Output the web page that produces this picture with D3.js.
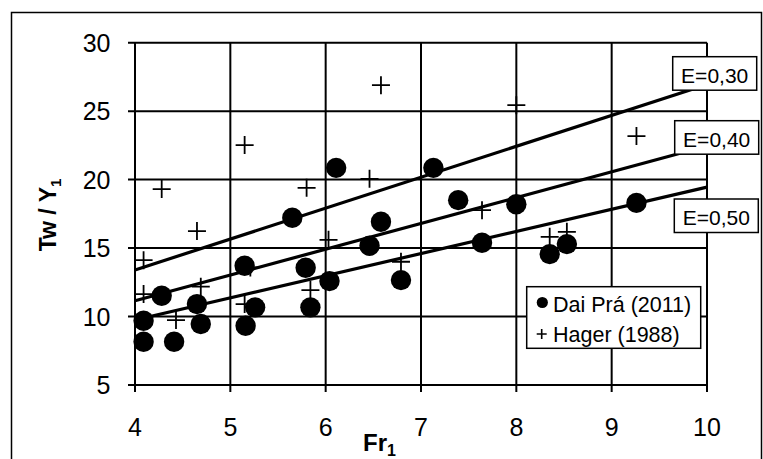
<!DOCTYPE html>
<html>
<head>
<meta charset="utf-8">
<script src="https://cdn.jsdelivr.net/npm/d3@7"></script>
<style>
  html, body { margin: 0; padding: 0; background: #fff; }
  svg { display: block; font-family: "Liberation Sans", Arial, sans-serif; }
</style>
</head>
<body>
<script>
// ---- data ----
const xTicks = [4, 5, 6, 7, 8, 9, 10];
const yTicks = [5, 10, 15, 20, 25, 30];

const daiFr = [4.09, 4.09, 4.28, 4.41, 4.65, 4.69, 5.15, 5.26, 5.16, 5.65, 5.79, 5.84,
               6.11, 6.04, 6.46, 6.58, 6.79, 7.13, 7.39, 7.64, 8.00, 8.35, 8.53, 9.26];
const daiTw = [9.69, 8.16, 11.52, 8.16, 10.91, 9.45, 13.71, 10.67, 9.33, 17.21, 13.56, 10.67,
               20.86, 12.59, 15.17, 16.92, 12.66, 20.86, 18.50, 15.39, 18.20, 14.56, 15.29, 18.30];

const hagerFr = [4.09, 4.09, 4.28, 4.43, 4.65, 4.69, 5.15, 5.15, 5.21, 5.80, 5.84, 6.03,
                 6.46, 6.58, 6.79, 7.64, 8.00, 8.35, 8.53, 9.26];
const hagerTw = [14.12, 11.64, 19.31, 9.74, 16.24, 12.18, 22.52, 10.91, 13.59, 19.40, 11.93, 15.60,
                 20.06, 26.90, 14.00, 17.77, 25.44, 15.82, 16.19, 23.18];

const eLabels = ["E=0,30", "E=0,40", "E=0,50"];
const eFr = [4, 10];
const eStart = [13.40, 11.15, 9.75];
const eEnd = [26.95, 22.45, 19.45];

const legendLabels = ["Dai Prá (2011)", "Hager (1988)"];

// ---- layout ----
const W = 763, H = 459;
const svg = d3.select("body").append("svg").attr("width", W).attr("height", H);

const x = d3.scaleLinear().domain([4, 10]).range([135, 707]);
const y = d3.scaleLinear().domain([5, 30]).range([385, 42.7]);

// outer frame
svg.append("rect").attr("x", 11.5).attr("y", 12.5).attr("width", 750).attr("height", 470)
  .attr("fill", "none").attr("stroke", "#000").attr("stroke-width", 1.5);

// grid
const g = svg.append("g");
g.selectAll(".vg").data(xTicks).join("line")
  .attr("x1", d => x(d)).attr("x2", d => x(d))
  .attr("y1", y(30)).attr("y2", y(5) + 7)
  .attr("stroke", "#000").attr("stroke-width", 2);
g.selectAll(".hg").data(yTicks).join("line")
  .attr("x1", x(4) - 7).attr("x2", x(10))
  .attr("y1", d => y(d)).attr("y2", d => y(d))
  .attr("stroke", "#000").attr("stroke-width", 2);

// tick labels
g.selectAll(".yl").data(yTicks).join("text")
  .attr("x", 110.5).attr("y", d => y(d) + 9)
  .attr("text-anchor", "end").attr("font-size", 25).text(d => d);
g.selectAll(".xl").data(xTicks).join("text")
  .attr("x", d => x(d)).attr("y", 435.5)
  .attr("text-anchor", "middle").attr("font-size", 25).text(d => d);

// axis titles
const yt = svg.append("text")
  .attr("transform", "translate(56,215) rotate(-90)")
  .attr("text-anchor", "middle").attr("font-size", 23).attr("font-weight", "bold");
yt.append("tspan").text("Tw / Y");
yt.append("tspan").attr("font-size", 15).attr("dy", 5).text("1");

const xt = svg.append("text")
  .attr("x", 363).attr("y", 451)
  .attr("font-size", 24).attr("font-weight", "bold");
xt.append("tspan").text("Fr");
xt.append("tspan").attr("font-size", 16).attr("dy", 5).text("1");

// E lines
const line = d3.line().x(d => x(d[0])).y(d => y(d[1]));
eLabels.forEach((lab, i) => {
  svg.append("path")
    .attr("d", line([[eFr[0], eStart[i]], [eFr[1], eEnd[i]]]))
    .attr("fill", "none").attr("stroke", "#000").attr("stroke-width", 3.2);
});

// Hager crosses
const hager = hagerFr.map((f, i) => [f, hagerTw[i]]);
const cs = 9;
svg.append("g").selectAll("path").data(hager).join("path")
  .attr("d", d => `M${x(d[0]) - cs},${y(d[1])}H${x(d[0]) + cs}M${x(d[0])},${y(d[1]) - cs}V${y(d[1]) + cs}`)
  .attr("stroke", "#000").attr("stroke-width", 1.8).attr("fill", "none");

// Dai Prá circles
const dai = daiFr.map((f, i) => [f, daiTw[i]]);
svg.append("g").selectAll("circle").data(dai).join("circle")
  .attr("cx", d => x(d[0])).attr("cy", d => y(d[1])).attr("r", 10.2)
  .attr("fill", "#000");

// E label boxes
const boxes = [{x: 672.7, y: 56.7}, {x: 674.7, y: 120.7}, {x: 674.3, y: 199}];
eLabels.forEach((lab, i) => {
  const b = boxes[i];
  svg.append("rect").attr("x", b.x).attr("y", b.y).attr("width", 84).attr("height", 33.5)
    .attr("fill", "#fff").attr("stroke", "#000").attr("stroke-width", 1.5);
  svg.append("text").attr("x", b.x + 42).attr("y", b.y + 26)
    .attr("text-anchor", "middle").attr("font-size", 21).text(lab);
});

// legend
const lg = svg.append("g");
lg.append("rect").attr("x", 526.7).attr("y", 286.7).attr("width", 174).attr("height", 61.6)
  .attr("fill", "#fff").attr("stroke", "#000").attr("stroke-width", 1.5);
lg.append("circle").attr("cx", 542.3).attr("cy", 302.5).attr("r", 5.6).attr("fill", "#000");
lg.append("text").attr("x", 553).attr("y", 311.5).attr("font-size", 21.5).text(legendLabels[0]);
lg.append("path").attr("d", "M536.7,334H546.7M541.7,329V339")
  .attr("stroke", "#000").attr("stroke-width", 1.6);
lg.append("text").attr("x", 553).attr("y", 341.5).attr("font-size", 21.5).text(legendLabels[1]);
</script>
</body>
</html>
